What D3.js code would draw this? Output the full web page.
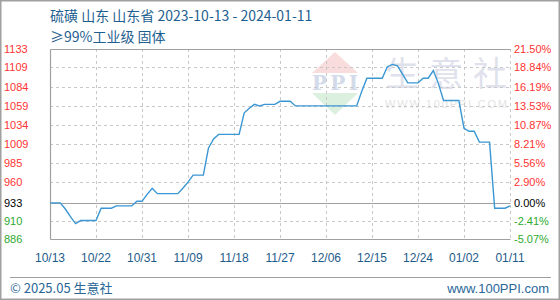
<!DOCTYPE html>
<html lang="zh">
<head>
<meta charset="utf-8">
<title>硫磺 山东</title>
<script src="https://d3js.org/d3.v7.min.js"></script>
<style>
body { margin: 0; background: #fff; }
svg { display: block; }
</style>
</head>
<body>
<script>

// data (day 0 = 2023-10-13)
var startDate = "2023-10-13";
var prices = [
  933, 933, 933, 925, 915, 906, 910, 910, 910, 910,
  926, 926, 926, 929, 929, 929, 929, 935, 935, 944,
  952, 945, 945, 945, 945, 945, 952, 960, 969, 969,
  969, 1004, 1016, 1022, 1022, 1022, 1022, 1022, 1050, 1056,
  1061, 1059, 1061, 1061, 1061, 1065, 1065, 1065, 1059, 1059,
  1059, 1059, 1059, 1059, 1059, 1059, 1059, 1059, 1059, 1059,
  1059, 1078, 1095, 1095, 1095, 1095, 1110, 1113, 1111, 1100,
  1089, 1089, 1089, 1095, 1095, 1105, 1088, 1066, 1066, 1066,
  1066, 1030, 1026, 1026, 1012, 1012, 1012, 926, 926, 926,
  929
];
var baseValue = 933;
var leftTicks = [886, 910, 933, 960, 985, 1009, 1034, 1059, 1084, 1109, 1133];
var rightTicks = ["-5.07%", "-2.41%", "0.00%", "2.90%", "5.56%", "8.21%", "10.87%", "13.53%", "16.19%", "18.84%", "21.50%"];
var dateLabels = ["10/13", "10/22", "10/31", "11/09", "11/18", "11/27", "12/06", "12/15", "12/24", "01/02", "01/11"];
var titleLine1 = "硫磺 山东 山东省 2023-10-13 - 2024-01-11";
var titleLine2 = "≥99%工业级 固体";

var w = 560, h = 300;
// plot box (avoid "top" - it's window.top)
var pL = 50, pR = 510, pT = 49, pB = 239;

var svg = d3.select("body").append("svg")
  .attr("width", w)
  .attr("height", h);

// outer border
svg.append("rect")
  .attr("x", 0.75).attr("y", 0.75)
  .attr("width", w - 1.5).attr("height", h - 1.5)
  .attr("fill", "#fff")
  .attr("stroke", "#a0a0a0")
  .attr("stroke-width", 1.5);

var parse = d3.timeParse("%Y-%m-%d");
var t0 = parse(startDate);
var data = prices.map(function(v, i) { return { date: d3.timeDay.offset(t0, i), value: v }; });

var x = d3.scaleTime()
  .domain([t0, d3.timeDay.offset(t0, prices.length - 1)])
  .range([pL, pR]);

var y = d3.scaleLinear()
  .domain([886, 1133])
  .range([pB, pT]);

var xLab = d3.scalePoint()
  .domain(dateLabels)
  .range([pL, pR]);

// watermark
var wm = svg.append("g").attr("class", "watermark");
wm.append("path")
  .attr("d", "M335,52 L358,73 L312,73 Z")
  .attr("fill", "#f9dcdc");
wm.append("path")
  .attr("d", "M312,93 L358,93 L335,115 Z")
  .attr("fill", "#dcf0e0");
wm.append("text")
  .attr("x", 312).attr("y", 90)
  .attr("font-family", "'DejaVu Serif', serif")
  .attr("font-weight", "bold")
  .attr("font-size", 20)
  .attr("textLength", 46)
  .attr("fill", "#d3dbea")
  .text("PPI");
wm.append("text")
  .attr("x", 385).attr("y", 86)
  .attr("font-family", "'Noto Sans CJK SC', sans-serif")
  .attr("font-size", 34)
  .attr("textLength", 122)
  .attr("fill", "#dfe2ec")
  .text("生意社");
wm.append("text")
  .attr("x", 385).attr("y", 108)
  .attr("font-family", "'Liberation Sans', Arial, sans-serif")
  .attr("font-size", 11)
  .attr("textLength", 122)
  .attr("fill", "#e4e4e4")
  .text("WWW.100PPI.COM");

// horizontal grid
svg.selectAll(".hgrid")
  .data(leftTicks.filter(function(d) { return d !== 886 && d !== 1133 && d !== baseValue; }))
  .enter().append("line")
  .attr("class", "hgrid")
  .attr("x1", pL).attr("x2", pR)
  .attr("y1", function(d) { return Math.round(y(d)) + 0.5; })
  .attr("y2", function(d) { return Math.round(y(d)) + 0.5; })
  .attr("stroke", "#c8c8c8")
  .attr("stroke-dasharray", "3,3");

// vertical grid
svg.selectAll(".vgrid")
  .data(dateLabels.slice(1))
  .enter().append("line")
  .attr("class", "vgrid")
  .attr("x1", function(d) { return Math.round(xLab(d)) + 0.5; })
  .attr("x2", function(d) { return Math.round(xLab(d)) + 0.5; })
  .attr("y1", pT).attr("y2", pB)
  .attr("stroke", "#c8c8c8")
  .attr("stroke-dasharray", "3,3");

// frame: top, left, bottom solid, zero line solid
var solid = [
  [pL, pT, pR, pT],
  [pL, pT, pL, pB],
  [pL, pB, pR, pB],
  [pL, y(baseValue), pR, y(baseValue)]
];
svg.selectAll(".frame")
  .data(solid)
  .enter().append("line")
  .attr("class", "frame")
  .attr("x1", function(d) { return Math.round(d[0]) + 0.5; })
  .attr("y1", function(d) { return Math.round(d[1]) + 0.5; })
  .attr("x2", function(d) { return Math.round(d[2]) + 0.5; })
  .attr("y2", function(d) { return Math.round(d[3]) + 0.5; })
  .attr("stroke", "#a0a0a0")
  .attr("stroke-width", 1.2);

// price line
var line = d3.line()
  .x(function(d) { return x(d.date); })
  .y(function(d) { return y(d.value); });

svg.append("path")
  .datum(data)
  .attr("d", line)
  .attr("fill", "none")
  .attr("stroke", "#3a97d4")
  .attr("stroke-width", 1.4);

function tickColor(v) {
  if (v > baseValue) return "#ff3333";
  if (v < baseValue) return "#2eaa2e";
  return "#000";
}

// left axis labels
svg.selectAll(".ylab")
  .data(leftTicks)
  .enter().append("text")
  .attr("class", "ylab")
  .attr("x", 4)
  .attr("y", function(d) { return y(d) + 4; })
  .attr("font-family", "'Liberation Sans', Arial, sans-serif")
  .attr("font-size", 11)
  .attr("fill", tickColor)
  .text(function(d) { return d; });

// right axis labels
svg.selectAll(".rlab")
  .data(rightTicks)
  .enter().append("text")
  .attr("class", "rlab")
  .attr("x", 514)
  .attr("y", function(d, i) { return y(leftTicks[i]) + 4; })
  .attr("font-family", "'Liberation Sans', Arial, sans-serif")
  .attr("font-size", 11)
  .attr("fill", function(d, i) { return tickColor(leftTicks[i]); })
  .text(function(d) { return d; });

// date labels
svg.selectAll(".xlab")
  .data(dateLabels)
  .enter().append("text")
  .attr("class", "xlab")
  .attr("x", function(d) { return xLab(d); })
  .attr("y", 262)
  .attr("text-anchor", "middle")
  .attr("font-family", "'Liberation Sans', Arial, sans-serif")
  .attr("font-size", 12)
  .attr("fill", "#1d5b8a")
  .text(function(d) { return d; });

// title
svg.append("text")
  .attr("x", 50).attr("y", 21)
  .attr("font-family", "'Noto Sans CJK SC', sans-serif")
  .attr("font-size", 14)
  .attr("fill", "#1f5f90")
  .text(titleLine1);
svg.append("text")
  .attr("x", 50).attr("y", 42)
  .attr("font-family", "'Noto Sans CJK SC', sans-serif")
  .attr("font-size", 14)
  .attr("fill", "#1f5f90")
  .text(titleLine2);

// footer
svg.append("line")
  .attr("x1", 10).attr("x2", 551)
  .attr("y1", 277.5).attr("y2", 277.5)
  .attr("stroke", "#a0a0a0")
  .attr("stroke-width", 1.2);
svg.append("text")
  .attr("x", 10).attr("y", 293)
  .attr("font-family", "'Noto Sans CJK SC', sans-serif")
  .attr("font-size", 13)
  .attr("fill", "#2a6797")
  .text("© 2025.05 生意社");
svg.append("text")
  .attr("x", 549).attr("y", 293)
  .attr("text-anchor", "end")
  .attr("font-family", "'Liberation Sans', Arial, sans-serif")
  .attr("font-size", 13)
  .attr("fill", "#2a6797")
  .text("www.100PPI.com");

</script>
</body>
</html>
